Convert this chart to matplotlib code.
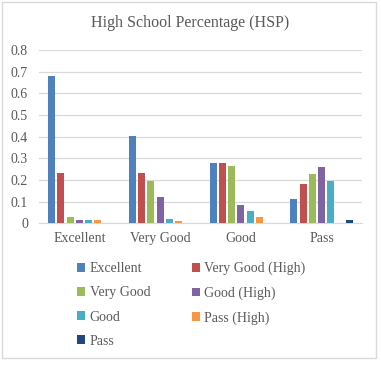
import matplotlib
matplotlib.use("Agg")
import matplotlib.pyplot as plt
from matplotlib.patches import Rectangle, Patch
import numpy as np

categories = ["Excellent", "Very Good", "Good", "Pass"]
series_names = ["Excellent", "Very Good (High)", "Very Good", "Good (High)",
                "Good", "Pass (High)", "Pass"]
excellent = [0.68, 0.405, 0.277, 0.112]
very_good_high = [0.23, 0.233, 0.278, 0.18]
very_good = [0.029, 0.194, 0.264, 0.229]
good_high = [0.014, 0.122, 0.086, 0.261]
good = [0.014, 0.022, 0.057, 0.195]
pass_high = [0.014, 0.011, 0.028, 0.0]
pass_ = [0.0, 0.0, 0.0, 0.015]
series_values = [excellent, very_good_high, very_good, good_high, good, pass_high, pass_]
colors = ["#4F81BD", "#C0504D", "#9BBB59", "#8064A2", "#4BACC6", "#F79646", "#1F497D"]
yticks = [0, 0.1, 0.2, 0.3, 0.4, 0.5, 0.6, 0.7, 0.8]

plt.rcParams['font.family'] = ['Liberation Serif', 'DejaVu Serif']

W, H = 381, 368
fig = plt.figure(figsize=(W / 100, H / 100), dpi=100)
fig.patch.set_facecolor("white")
fig.add_artist(Rectangle((1.5 / W, 1 - 357.5 / H), 374 / W, 356 / H, transform=fig.transFigure,
                         facecolor="none", edgecolor="#D9D9D9", lw=1))

ax = fig.add_axes([39 / W, 1 - 223.3 / H, 323 / W, 173.3 / H])
x = np.arange(len(categories))
stride = 0.115
width = 0.087
n = len(series_names)
handles = []
for i, (name, vals, c) in enumerate(zip(series_names, series_values, colors)):
    off = (i - (n - 1) / 2) * stride
    ax.bar(x + off, vals, width=width, color=c, label=name, zorder=3)
    handles.append(Patch(facecolor=c, label=name))

ax.set_xlim(-0.5, len(categories) - 0.5)
ax.set_ylim(0, 0.8)
ax.set_yticks(yticks)
ax.set_yticklabels(["0" if v == 0 else f"{v:.1f}" for v in yticks])
ax.set_xticks(x)
ax.set_xticklabels(categories)
ax.tick_params(axis="both", length=0, labelsize=10, colors="#595959")
ax.tick_params(axis="x", pad=6)
ax.tick_params(axis="y", pad=8)
ax.yaxis.grid(True, color="#D9D9D9", lw=0.9, zorder=0)
for s in ["top", "right", "left"]:
    ax.spines[s].set_visible(False)
ax.spines["bottom"].set_color("#D9D9D9")
ax.set_axisbelow(True)

fig.text(190 / W, 1 - 23 / H, "High School Percentage (HSP)", ha="center", va="center",
         fontsize=11.5, color="#595959")

order = [0, 2, 4, 6, 1, 3, 5]
leg = fig.legend([handles[i] for i in order], [series_names[i] for i in order],
                 ncol=2, loc="upper left", bbox_to_anchor=(77 / W, 1 - 262 / H),
                 frameon=False, fontsize=10, handlelength=0.6, handleheight=0.6,
                 handletextpad=0.3, columnspacing=3.0, labelspacing=0.8,
                 borderpad=0, borderaxespad=0)
for t in leg.get_texts():
    t.set_color("#595959")

fig.savefig("out.png", dpi=100, facecolor="white")
